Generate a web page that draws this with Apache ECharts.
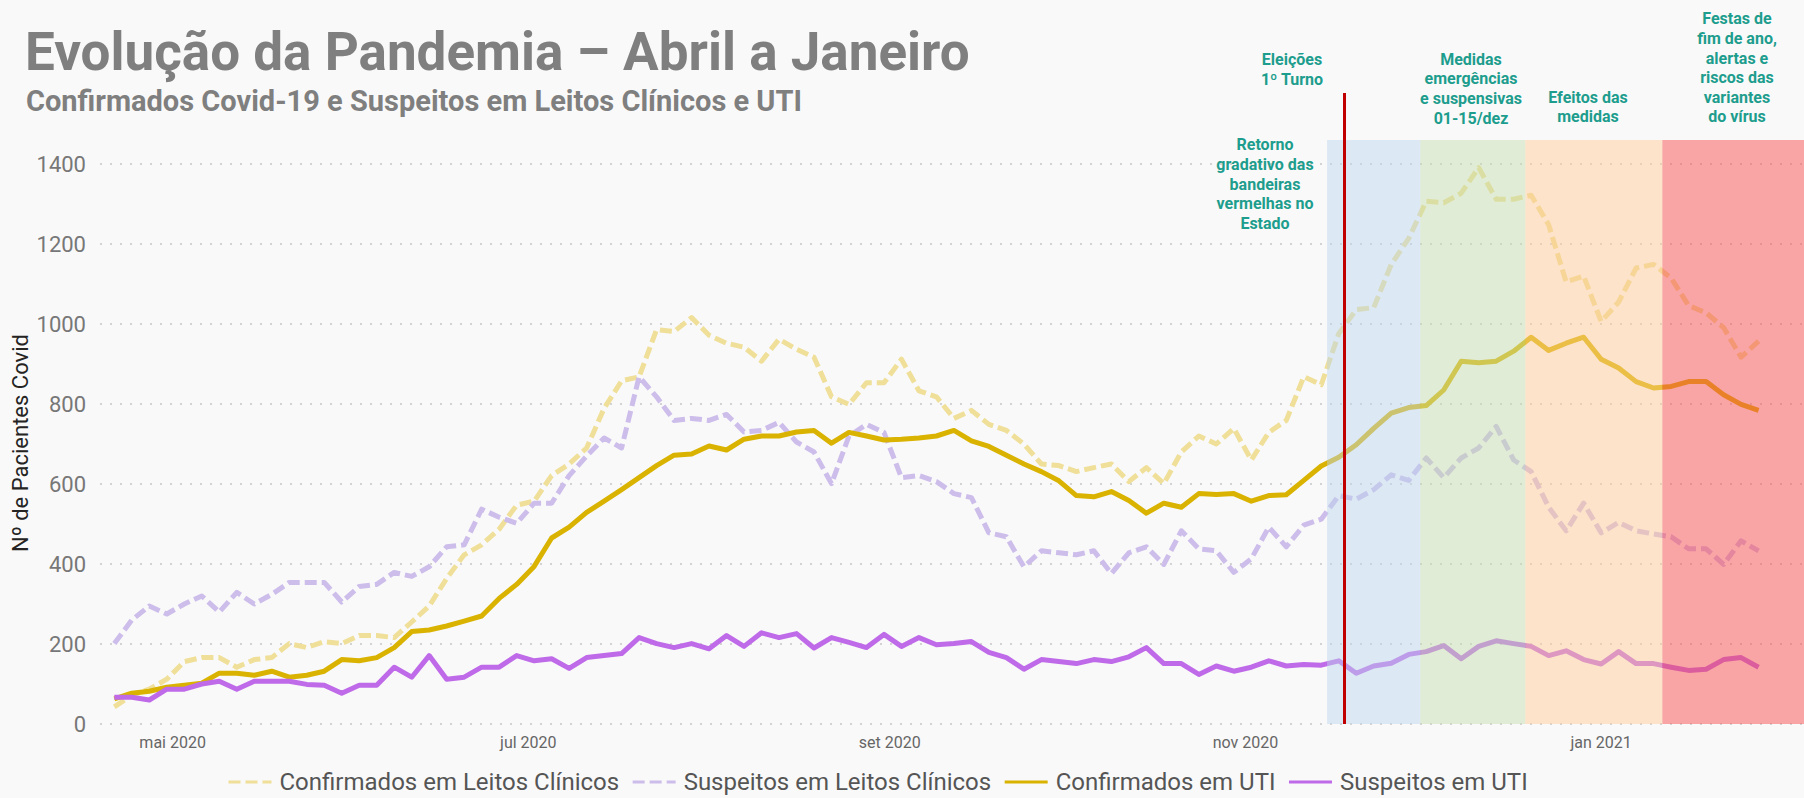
<!DOCTYPE html>
<html>
<head>
<meta charset="utf-8">
<title>Evolução da Pandemia – Abril a Janeiro</title>
<script src="https://cdn.jsdelivr.net/npm/echarts@6/dist/echarts.min.js"></script>
<style>
html, body { margin: 0; padding: 0; background: #f9f9f9; }
#grafico { width: 1804px; height: 798px; }
</style>
</head>
<body>
<div id="grafico"></div>
<script>
// um ponto a cada 3 dias, a partir de 21/04/2020
var primeiroDia = [2020, 3, 21];
var passoDias = 3;

var confLeitos = [43, 72, 87, 112, 156, 166, 166, 142, 161, 166, 201, 191, 206, 201, 221, 221, 216, 255, 295, 364,
	423, 448, 487, 547, 557, 621, 650, 690, 789, 858, 868, 986, 981, 1016, 972, 952, 942, 907, 962, 937,
	917, 818, 799, 853, 853, 912, 833, 818, 764, 784, 749, 734, 700, 650, 646, 631, 641, 650, 606, 641,
	601, 680, 720, 700, 739, 660, 729, 759, 868, 848,
	976, 1036, 1041, 1149, 1214, 1307, 1303, 1327, 1391, 1312, 1312, 1322, 1248, 1105, 1120, 1006, 1055, 1140, 1149, 1115,
	1046, 1028, 991, 917, 957];

var suspLeitos = [201, 260, 295, 275, 300, 320, 280, 329, 300, 324, 354, 354, 354, 305, 344, 349, 379, 369, 393, 443,
	448, 537, 517, 502, 552, 552, 621, 670, 715, 690, 868, 818, 759, 764, 759, 774, 730, 734, 754, 705,
	680, 601, 720, 749, 729, 616, 621, 606, 576, 566, 478, 468, 393, 433, 428, 423, 433, 376, 428, 443,
	399, 483, 438, 433, 379, 413, 492, 443, 497, 512,
	571, 562, 586, 623, 609, 665, 616, 665, 690, 744, 660, 631, 542, 483, 552, 478, 504, 483, 475, 468,
	438, 438, 399, 458, 433];

var confUTI = [63, 77, 82, 92, 97, 102, 127, 127, 122, 132, 117, 122, 132, 161, 158, 166, 191, 231, 235, 245,
	257, 270, 314, 349, 394, 465, 492, 529, 557, 586, 616, 646, 672, 675, 695, 685, 712, 720, 720, 730,
	734, 702, 729, 720, 710, 712, 715, 720, 734, 708, 694, 672, 650, 631, 608, 571, 568, 581, 559, 527,
	552, 542, 576, 574, 576, 557, 571, 573, 609, 645,
	667, 698, 739, 777, 791, 796, 835, 907, 903, 907, 932, 967, 934, 952, 967, 912, 890, 856, 840, 844,
	856, 856, 823, 799, 784];

var suspUTI = [67, 67, 60, 87, 87, 100, 107, 87, 107, 107, 107, 99, 97, 77, 97, 97, 142, 117, 171, 112,
	117, 142, 142, 171, 158, 163, 139, 166, 171, 176, 216, 201, 191, 201, 188, 221, 194, 228, 216, 226,
	190, 216, 204, 191, 224, 194, 216, 198, 201, 206, 179, 166, 137, 161, 156, 151, 161, 156, 168, 191,
	151, 151, 124, 145, 132, 142, 158, 145, 149, 147,
	158, 127, 145, 152, 174, 181, 196, 163, 194, 208, 201, 194, 171, 183, 161, 150, 181, 151, 151, 142,
	134, 137, 161, 166, 142];

var nomesSeries = ['Confirmados em Leitos Clínicos', 'Suspeitos em Leitos Clínicos', 'Confirmados em UTI', 'Suspeitos em UTI'];
var mesesAbrev = ['jan', 'fev', 'mar', 'abr', 'mai', 'jun', 'jul', 'ago', 'set', 'out', 'nov', 'dez'];
var mesesRotulados = [0, 4, 6, 8, 10];

// periodos destacados (inicio, fim) e data da linha vermelha
var periodos = [
	['2020-11-15', '2020-12-01'],
	['2020-12-01', '2020-12-19'],
	['2020-12-19', '2021-01-11 12'],
	['2021-01-11 12', '2021-02-04 19']
];
var dataEleicoes = '2020-11-18';

var anotacoes = [
	{ texto: 'Eleições\n1º Turno', x: 1292, y: 50 },
	{ texto: 'Retorno\ngradativo das\nbandeiras\nvermelhas no\nEstado', x: 1265, y: 135 },
	{ texto: 'Medidas\nemergências\ne suspensivas\n01-15/dez', x: 1471, y: 49.5 },
	{ texto: 'Efeitos das\nmedidas', x: 1588, y: 87.5 },
	{ texto: 'Festas de\nfim de ano,\nalertas e\nriscos das\nvariantes\ndo vírus', x: 1737, y: 9 }
];

var cores = {
	confLeitos: '#efdf98',
	suspLeitos: '#cdbdea',
	confUTI: '#d9b300',
	suspUTI: '#bf6ae8',
	bandas: ['rgba(186,212,236,0.47)', 'rgba(197,222,175,0.47)', 'rgba(255,202,148,0.47)', 'rgba(250,80,82,0.5)'],
	anotacao: '#1d9d8d',
	titulo: '#7f7f7f'
};

function dia(s) {
	var p = s.split(/[- ]/);
	return new Date(+p[0], +p[1] - 1, +p[2], p[3] ? +p[3] : 0).getTime();
}

function pontos(valores) {
	return valores.map(function(v, i) {
		return [new Date(primeiroDia[0], primeiroDia[1], primeiroDia[2] + passoDias * i).getTime(), v];
	});
}

function serieLinha(nome, valores, cor, tracejada) {
	return {
		name: nome,
		type: 'line',
		data: pontos(valores),
		symbol: 'none',
		showSymbol: false,
		silent: true,
		z: 2,
		color: cor,
		lineStyle: {
			color: cor,
			width: 5,
			type: tracejada ? [12, 5] : 'solid',
			join: 'round'
		}
	};
}

var chart = echarts.init(document.getElementById('grafico'), null, { renderer: 'svg' });

var graficos = anotacoes.map(function(a) {
	return {
		type: 'text',
		x: a.x,
		y: a.y,
		silent: true,
		z: 50,
		style: {
			text: a.texto,
			align: 'center',
			verticalAlign: 'top',
			fill: cores.anotacao,
			fontFamily: 'Roboto',
			fontWeight: 'bold',
			fontSize: 16,
			lineHeight: 19.6
		}
	};
});
graficos.push({
	type: 'text',
	x: 20,
	y: 443,
	rotation: Math.PI / 2,
	silent: true,
	style: {
		text: 'Nº de Pacientes Covid',
		align: 'center',
		verticalAlign: 'middle',
		fill: '#252423',
		fontFamily: 'Roboto',
		fontSize: 22
	}
});

chart.setOption({
	backgroundColor: '#f9f9f9',
	animation: false,
	title: [{
		text: 'Evolução da Pandemia – Abril a Janeiro',
		left: 25,
		top: 25,
		padding: 0,
		textStyle: { fontFamily: 'Roboto', fontWeight: 'bold', fontSize: 53, color: cores.titulo }
	}, {
		text: 'Confirmados Covid-19 e Suspeitos em Leitos Clínicos e UTI',
		left: 26,
		top: 86,
		padding: 0,
		textStyle: { fontFamily: 'Roboto', fontWeight: 'bold', fontSize: 29, color: cores.titulo }
	}],
	legend: {
		data: nomesSeries,
		left: 222,
		top: 765,
		itemWidth: 43,
		itemHeight: 12,
		itemGap: 12,
		lineStyle: { width: 3 },
		itemStyle: { opacity: 0 },
		textStyle: { fontFamily: 'Roboto', fontSize: 24, lineHeight: 24, color: '#555555', padding: [0, 0, 0, 3] }
	},
	grid: { left: 100, right: 0, top: 93, bottom: 74 },
	xAxis: {
		type: 'time',
		min: dia('2020-04-18 13'),
		max: dia('2021-02-04 19'),
		minInterval: 28 * 86400000,
		maxInterval: 31 * 86400000,
		axisLine: { show: false },
		axisTick: { show: false },
		splitLine: { show: false },
		axisLabel: {
			margin: 10,
			color: '#666666',
			fontFamily: 'Roboto',
			fontSize: 16,
			hideOverlap: false,
			formatter: function(valor) {
				var d = new Date(valor);
				if (d.getDate() !== 1 || d.getHours() !== 0 || mesesRotulados.indexOf(d.getMonth()) < 0) {
					return '';
				}
				return mesesAbrev[d.getMonth()] + ' ' + d.getFullYear();
			}
		}
	},
	yAxis: {
		type: 'value',
		min: 0,
		max: 1577.5,
		interval: 200,
		axisLine: { show: false },
		axisTick: { show: false },
		axisLabel: {
			showMaxLabel: false,
			margin: 14,
			color: '#777777',
			fontFamily: 'Roboto',
			fontSize: 22,
			formatter: function(v) { return String(v); }
		},
		splitLine: { showMaxLine: false, lineStyle: { color: '#c6c6c6', type: [2, 8], width: 1.5 } }
	},
	graphic: graficos,
	series: [
		serieLinha(nomesSeries[0], confLeitos, cores.confLeitos, true),
		serieLinha(nomesSeries[1], suspLeitos, cores.suspLeitos, true),
		serieLinha(nomesSeries[2], confUTI, cores.confUTI, false),
		serieLinha(nomesSeries[3], suspUTI, cores.suspUTI, false),
		{
			name: 'periodos',
			type: 'line',
			data: [],
			silent: true,
			z: 10,
			markArea: {
				silent: true,
				z: 10,
				data: periodos.map(function(p, i) {
					return [
						{ xAxis: dia(p[0]), yAxis: -10, itemStyle: { color: cores.bandas[i] } },
						{ xAxis: dia(p[1]), yAxis: 1460 }
					];
				})
			},
			markLine: {
				silent: true,
				z: 11,
				symbol: 'none',
				label: { show: false },
				lineStyle: { color: '#c00000', width: 3, type: 'solid' },
				data: [{ xAxis: dia(dataEleicoes) }]
			}
		}
	]
});
</script>
</body>
</html>
